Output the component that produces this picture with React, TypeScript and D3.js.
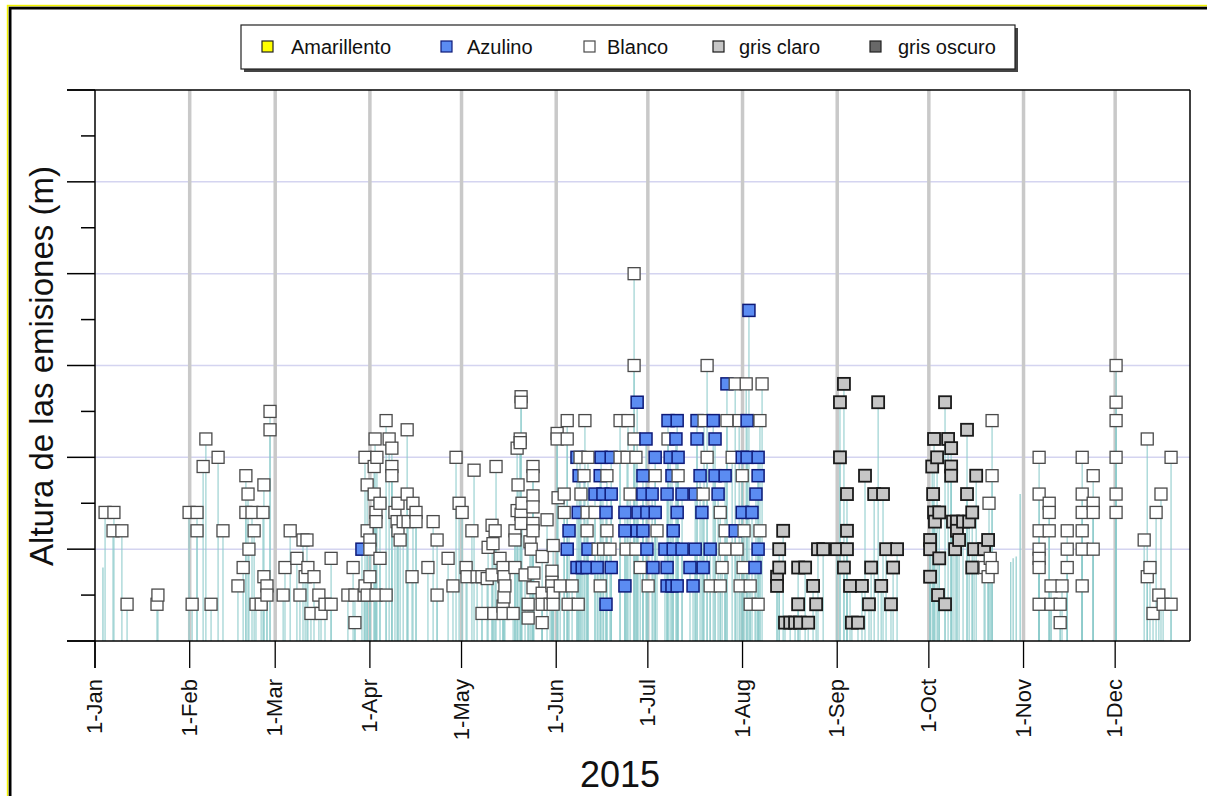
import React from "react";
import * as d3 from "d3";

// Día del año (0 = 1 de enero 2015) y altura de la emisión (m)
const blancoPts: [number, number][] = [
  [3.3,700],[6.2,700],[5.9,600],[8.8,600],[10.5,200],[20.6,250],[20.3,200],
  [30.8,700],[33.4,700],[33.4,600],[31.8,200],[36.3,1100],[35.4,950],[40.3,1000],[41.9,600],[38.0,200],
  [49.4,900],[50.1,800],[49.4,700],[51.4,700],[55.0,700],[52.1,600],[50.4,500],[55.3,850],[48.5,400],[46.8,300],
  [55.3,350],[56.3,300],[52.7,200],[54.4,200],[56.3,250],[57.3,1250],[57.3,1150],
  [63.9,600],[68.1,550],[69.4,550],[66.1,450],[62.2,400],[69.7,400],[68.8,350],[71.7,350],[61.6,250],[67.1,250],
  [73.3,250],[70.7,150],[74.0,150],[75.3,200],[77.3,200],[77.3,450],[84.5,400],[82.8,250],[85.1,250],[85.1,100],[88.1,250],
  [88.4,1000],[91.7,1100],[95.3,1200],[96.3,1100],[97.2,1050],[92.3,1000],[91.4,950],[97.2,950],[97.2,900],[102.2,1150],
  [89.1,850],[91.4,800],[93.3,750],[92.0,700],[92.0,650],[89.1,600],[90.0,550],[90.0,500],[93.3,450],[90.0,350],
  [88.4,300],[89.1,250],[92.0,250],[95.3,250],[99.2,750],[102.2,800],[104.1,750],[105.1,700],[98.2,700],[98.9,650],
  [100.9,650],[102.5,650],[105.1,650],[99.2,600],[99.9,550],[103.8,350],[110.7,650],[112.0,550],[109.0,400],[115.6,450],
  [112.0,250],[117.2,300],
  [118.2,1000],[119.2,750],[120.2,700],[121.5,400],[121.8,350],[123.4,600],[124.1,930],[131.3,950],[125.1,350],[126.7,350],
  [128.4,340],[130.0,630],[131.0,600],[130.3,530],[128.7,510],[132.6,450],[130.0,360],[133.6,400],[137.5,400],[133.9,350],
  [134.2,300],[133.9,240],[133.6,190],[126.7,150],[130.6,150],[133.6,150],[136.9,150],[139.5,1330],[139.5,1300],[139.2,1100],
  [138.2,1050],[139.2,1080],[143.4,950],[143.4,900],[138.5,850],[139.8,750],[143.4,790],[143.4,730],[138.2,710],[139.5,690],
  [139.5,640],[137.5,600],[143.4,640],[143.4,600],[137.5,550],[142.4,540],[142.8,500],[146.4,460],[140.8,360],[143.7,370],
  [143.4,290],[146.4,260],[141.8,200],[146.4,200],[141.8,125],[146.4,100],[149.6,380],[149.6,320],[148.0,660],[151.3,1130],
  [151.3,1100],[151.6,780],[150.0,520],[150.0,260],[150.0,200],
  [176.5,2000],[176.5,1500],[200.4,1500],[209.6,1400],[213.2,1400],[218.4,1400],
  [154.6,1200],[160.4,1200],[171.9,1200],[174.5,1200],[199.4,1200],[206.9,1200],[210.9,1200],[217.7,1200],
  [154.6,1100],[176.5,1100],[187.6,1100],
  [158.8,1000],[161.4,1000],[171.9,1000],[174.2,1000],[177.1,1000],[200.4,1000],[208.6,1000],
  [160.1,900],[167.6,900],[183.4,900],[190.9,900],[211.9,900],
  [153.6,800],[159.1,800],[175.2,800],[199.1,800],
  [153.6,700],[161.1,700],[163.7,700],[204.7,700],
  [161.1,600],[167.6,600],[184.0,600],[206.3,600],[212.5,600],[217.7,600],
  [164.7,500],[166.5,500],[168.6,500],[173.9,500],[177.1,500],[206.3,500],[210.2,500],
  [178.5,400],[205.3,400],[212.2,400],
  [149.6,300],[152.3,300],[156.2,300],[165.4,300],[181.1,300],[201.4,300],[204.7,300],[211.2,300],[214.5,300],
  [149.0,200],[154.9,200],[158.2,200],[214.5,200],[217.1,200],
  [293.7,1200],[293.7,900],[292.7,750],[293.1,450],[293.7,400],[291.4,400],[292.4,350],
  [309.1,1000],[309.1,800],[312.4,750],[312.4,700],[309.1,600],[312.4,600],[318.3,600],[309.1,500],[309.1,450],[309.1,400],
  [318.3,500],[318.3,400],[313.0,300],[316.6,300],[309.1,200],[313.0,200],[316.0,200],[316.0,100],
  [323.2,1000],[326.8,900],[323.2,800],[326.8,750],[323.2,700],[326.8,700],[323.2,600],[323.2,500],[326.8,500],[323.2,300],
  [334.3,1500],[334.3,1300],[334.3,1200],[334.3,1000],[334.3,800],[334.3,700],[344.5,1100],[352.3,1000],[349.0,800],
  [347.4,700],[343.5,550],[345.4,400],[344.5,350],[348.3,250],[346.4,150],[349.7,200],[352.3,200]
];

const azulinoPts: [number, number][] = [
  [87.4,500],
  [214.1,1800],[206.9,1400],[177.5,1300],
  [187.6,1200],[190.6,1200],[197.1,1200],[202.4,1200],[213.5,1200],
  [180.4,1100],[190.2,1100],[197.1,1100],[203.0,1100],
  [157.8,1000],[165.7,1000],[169.0,1000],[183.4,1000],[188.3,1000],[190.9,1000],[211.9,1000],[213.5,1000],[217.1,1000],
  [158.5,900],[165.4,900],[179.4,900],[188.9,900],[198.1,900],[203.0,900],[206.3,900],[217.1,900],
  [163.7,800],[166.3,800],[169.0,800],[179.4,800],[182.4,800],[187.3,800],[192.2,800],[196.5,800],[204.0,800],[216.4,800],
  [158.2,700],[167.3,700],[173.5,700],[177.8,700],[180.7,700],[183.4,700],[190.6,700],[198.7,700],[211.9,700],[215.1,700],
  [155.2,600],[173.5,600],[177.5,600],[179.4,600],[189.3,600],[209.6,600],
  [154.6,500],[161.4,500],[180.7,500],[186.6,500],[189.3,500],[192.2,500],[196.5,500],[201.4,500],[217.1,500],
  [157.8,400],[159.5,400],[161.1,400],[164.4,400],[169.0,400],[182.7,400],[187.3,400],[194.8,400],[199.1,400],[216.1,400],
  [173.5,300],[187.3,300],[188.9,300],[190.6,300],[195.8,300],
  [167.3,200]
];

const grisClaroPts: [number, number][] = [
  [225.3,600],[224.0,500],[236.7,500],[238.4,500],[242.9,500],[246.2,500],[259.0,500],[262.6,500],
  [224.0,400],[230.2,400],[232.5,400],[245.2,400],[254.1,400],[261.3,400],[223.3,350],
  [223.3,300],[235.1,300],[247.2,300],[251.1,300],[257.4,300],
  [230.2,200],[236.1,200],[253.4,200],[260.6,200],
  [225.9,100],[227.6,100],[229.2,100],[230.8,100],[233.5,100],[247.8,100],[249.8,100],
  [245.2,1400],[243.9,1300],[256.4,1300],[243.9,1000],[252.1,900],[246.2,800],[255.1,800],[258.0,800],[246.2,600],
  [278.3,1300],[285.5,1150],[274.7,1100],[279.3,1100],[280.3,1050],[275.7,1000],[274.1,950],[280.3,950],[280.3,900],
  [288.5,900],[274.4,800],[285.5,800],[274.7,700],[276.4,700],[287.2,700],[275.0,650],[280.9,650],[282.2,650],
  [284.2,650],[286.2,650],[282.2,600],[273.4,550],[282.9,550],[292.4,550],[273.4,500],[281.6,500],[287.8,500],
  [291.1,500],[276.4,450],[287.2,400],[273.4,350],[276.0,250],[278.3,200]
];

// tallos sin marcador
const soloTallos: [number, number][] = [
  [2.6,400],[299.8,430],[300.6,450],[301.6,460],[302.9,800]
];

const legendLabels = ["Amarillento", "Azulino", "Blanco", "gris claro", "gris oscuro"];
const legendKeys = ["amarillento", "azulino", "blanco", "grisClaro", "grisOscuro"];

const yMax = 3000;
const xEndDay = 358.5;

const styles: Record<string, { fill: string; stroke: string; sw: number }> = {
  amarillento: { fill: "#ffff00", stroke: "#222", sw: 1.2 },
  azulino: { fill: "#5b8cf2", stroke: "#0e1a78", sw: 1.5 },
  blanco: { fill: "#ffffff", stroke: "#4a4a4a", sw: 1.3 },
  grisClaro: { fill: "#c6c6c6", stroke: "#1a1a1a", sw: 1.8 },
  grisOscuro: { fill: "#686868", stroke: "#222", sw: 1.2 },
};

const FONT = "'Liberation Sans', Arial, Helvetica, sans-serif";

export default function App() {
  const W = 1207, H = 796;
  const left = 95, right = 1190, top = 90, bottom = 641;
  const t0 = Date.UTC(2015, 0, 1);
  const dayMs = 86400000;
  const xT = d3.scaleUtc().domain([new Date(t0), new Date(t0 + xEndDay * dayMs)]).range([left, right]);
  const xd = (d: number) => xT(new Date(t0 + d * dayMs));
  const y = d3.scaleLinear().domain([0, yMax]).range([bottom, top]);

  const months = d3.utcMonth.range(new Date(t0), new Date(Date.UTC(2015, 11, 2)));
  const fmt = d3.utcFormat("%-d-%b");
  const majors = d3.range(0, yMax + 1, 500);
  const minors = d3.range(250, yMax, 500);
  const grids = d3.range(500, yMax, 500);

  const all = [
    ...blancoPts.map(([d, v]) => ({ d, v, k: "blanco" })),
    ...azulinoPts.map(([d, v]) => ({ d, v, k: "azulino" })),
    ...grisClaroPts.map(([d, v]) => ({ d, v, k: "grisClaro" })),
  ].sort((a, b) => a.d - b.d);

  const sq = 12;
  const legendSqX = [262, 441, 584, 713, 870];
  const legendTxtX = [291, 467, 607, 739, 898];

  return (
    <svg width={W} height={H} style={{ position: "absolute", left: 0, top: 0, background: "#fff" }} fontFamily={FONT}>
      <rect x={0} y={0} width={W} height={H} fill="#fff" />
      {/* marco */}
      <rect x={7.6} y={5.6} width={W + 50} height={H + 50} fill="none" stroke="#f2f200" strokeWidth={1.6} />
      <rect x={10.1} y={8.1} width={W + 50} height={H + 50} fill="none" stroke="#000" strokeWidth={2.8} />

      {/* rejilla horizontal */}
      {grids.map((g) => (
        <line key={"g" + g} x1={left} x2={right} y1={y(g)} y2={y(g)} stroke="#d4d4f0" strokeWidth={1.5} />
      ))}
      {/* rejilla mensual */}
      {months.slice(1).map((m) => (
        <line key={"m" + m.getTime()} x1={xT(m)} x2={xT(m)} y1={top} y2={bottom} stroke="#c9c9c9" strokeWidth={3.5} />
      ))}

      {/* tallos */}
      {soloTallos.map(([d, v], i) => (
        <line key={"s" + i} x1={xd(d)} x2={xd(d)} y1={y(0)} y2={y(v)} stroke="#8ecccc" strokeWidth={1.4} opacity={0.85} />
      ))}
      {all.map((p, i) => (
        <line key={"t" + i} x1={xd(p.d)} x2={xd(p.d)} y1={y(0)} y2={y(p.v)} stroke="#8ecccc" strokeWidth={1.4} opacity={0.75} />
      ))}

      {/* ejes */}
      <line x1={left} x2={left} y1={top} y2={668} stroke="#000" strokeWidth={1.5} />
      <line x1={67} x2={right} y1={bottom} y2={bottom} stroke="#000" strokeWidth={1.7} />
      <line x1={67} x2={right} y1={top} y2={top} stroke="#000" strokeWidth={1.5} />
      <line x1={right} x2={right} y1={top} y2={bottom} stroke="#000" strokeWidth={1.5} />
      {majors.map((m) => (
        <line key={"M" + m} x1={67} x2={left} y1={y(m)} y2={y(m)} stroke="#000" strokeWidth={1.5} />
      ))}
      {minors.map((m) => (
        <line key={"n" + m} x1={81} x2={left} y1={y(m)} y2={y(m)} stroke="#000" strokeWidth={1.5} />
      ))}
      {months.map((m) => (
        <g key={"x" + m.getTime()}>
          <line x1={xT(m)} x2={xT(m)} y1={bottom} y2={668} stroke="#000" strokeWidth={1.3} />
          <text transform={`translate(${xT(m) + 7},679) rotate(-90)`} textAnchor="end" fontSize={22} fill="#111">
            {fmt(m)}
          </text>
        </g>
      ))}

      {/* marcadores */}
      {all.map((p, i) => {
        const s = styles[p.k];
        return (
          <rect key={"p" + i} x={xd(p.d) - sq / 2} y={y(p.v) - sq / 2} width={sq} height={sq}
            fill={s.fill} stroke={s.stroke} strokeWidth={s.sw} />
        );
      })}

      {/* títulos */}
      <text transform="translate(53,366) rotate(-90)" textAnchor="middle" fontSize={33} fill="#111">
        Altura de las emisiones (m)
      </text>
      <text x={620} y={787} textAnchor="middle" fontSize={36} fill="#111">2015</text>

      {/* leyenda */}
      <rect x={244} y={28} width={774} height={44} fill="#444" />
      <rect x={241} y={25} width={774} height={44} fill="#fff" stroke="#222" strokeWidth={1.2} />
      {legendLabels.map((lab, i) => {
        const s = styles[legendKeys[i]];
        return (
          <g key={lab}>
            <rect x={legendSqX[i]} y={41} width={11} height={11} fill={s.fill} stroke={s.stroke} strokeWidth={1.2} />
            <text x={legendTxtX[i]} y={54} fontSize={20} fill="#111">{lab}</text>
          </g>
        );
      })}
    </svg>
  );
}
